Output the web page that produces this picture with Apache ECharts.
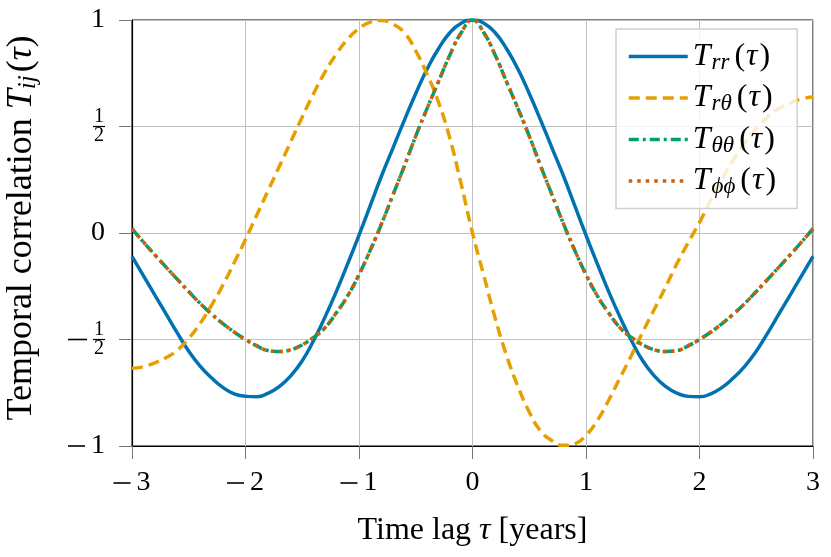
<!DOCTYPE html>
<html>
<head>
<meta charset="utf-8">
<script src="https://cdn.jsdelivr.net/npm/echarts@6/dist/echarts.min.js"></script>
<style>
  html, body { margin: 0; padding: 0; background: #fff; }
  #chart { width: 831px; height: 557px; }
</style>
</head>
<body>
<div id="chart"></div>
<script>
// time lag samples (years)
var tau = [-3.0, -2.9, -2.8, -2.7, -2.6, -2.5, -2.4, -2.3, -2.2, -2.1,
  -2.0, -1.9, -1.8, -1.7, -1.6, -1.5, -1.4, -1.3, -1.2, -1.1,
  -1.0, -0.9, -0.8, -0.7, -0.6, -0.5, -0.4, -0.3, -0.2, -0.1,
  0.0, 0.1, 0.2, 0.3, 0.4, 0.5, 0.6, 0.7, 0.8, 0.9,
  1.0, 1.1, 1.2, 1.3, 1.4, 1.5, 1.6, 1.7, 1.8, 1.9,
  2.0, 2.1, 2.2, 2.3, 2.4, 2.5, 2.6, 2.7, 2.8, 2.9, 3.0];

var Trr = [-0.11, -0.2, -0.29, -0.38, -0.47, -0.555, -0.625, -0.68, -0.725, -0.755,
  -0.767, -0.769, -0.752, -0.72, -0.67, -0.6, -0.505, -0.395, -0.275, -0.145,
  -0.01, 0.13, 0.27, 0.40, 0.53, 0.655, 0.77, 0.865, 0.94, 0.985,
  1.0, 0.985, 0.94, 0.865, 0.77, 0.655, 0.53, 0.40, 0.27, 0.13,
  -0.01, -0.145, -0.275, -0.395, -0.505, -0.6, -0.67, -0.72, -0.752, -0.767,
  -0.769, -0.755, -0.725, -0.68, -0.625, -0.555, -0.47, -0.38, -0.29, -0.2, -0.11];

var Trt = [-0.635, -0.628, -0.61, -0.585, -0.55, -0.495, -0.425, -0.34, -0.245, -0.14,
  -0.03, 0.085, 0.2, 0.315, 0.43, 0.545, 0.655, 0.755, 0.84, 0.91,
  0.96, 0.99, 0.998, 0.98, 0.94, 0.855, 0.745, 0.615, 0.445, 0.23,
  0.0, -0.2, -0.4, -0.575, -0.72, -0.84, -0.93, -0.975, -0.997, -0.99,
  -0.95, -0.88, -0.785, -0.68, -0.575, -0.465, -0.36, -0.255, -0.145, -0.045,
  0.05, 0.155, 0.255, 0.345, 0.425, 0.49, 0.545, 0.585, 0.61, 0.63, 0.638];

var Ttt = [0.02, -0.042, -0.102, -0.16, -0.218, -0.275, -0.33, -0.38, -0.425, -0.465,
  -0.5, -0.53, -0.552, -0.556, -0.548, -0.525, -0.49, -0.445, -0.375, -0.295,
  -0.195, -0.08, 0.045, 0.18, 0.315, 0.455, 0.585, 0.71, 0.835, 0.94,
  1.0, 0.94, 0.835, 0.71, 0.585, 0.455, 0.315, 0.18, 0.045, -0.08,
  -0.195, -0.295, -0.375, -0.445, -0.49, -0.525, -0.548, -0.556, -0.552, -0.53,
  -0.5, -0.465, -0.425, -0.38, -0.33, -0.275, -0.218, -0.16, -0.102, -0.042, 0.02];

var Tpp = [0.02, -0.042, -0.102, -0.16, -0.218, -0.275, -0.33, -0.38, -0.425, -0.465,
  -0.5, -0.53, -0.552, -0.556, -0.548, -0.525, -0.49, -0.445, -0.375, -0.295,
  -0.195, -0.08, 0.045, 0.18, 0.315, 0.455, 0.585, 0.71, 0.835, 0.94,
  1.0, 0.94, 0.835, 0.71, 0.585, 0.455, 0.315, 0.18, 0.045, -0.08,
  -0.195, -0.295, -0.375, -0.445, -0.49, -0.525, -0.548, -0.556, -0.552, -0.53,
  -0.5, -0.465, -0.425, -0.38, -0.33, -0.275, -0.218, -0.16, -0.102, -0.042, 0.02];

var seriesNames = ['Trr', 'Trθ', 'Tθθ', 'Tϕϕ'];
var seriesSubs = ['rr', 'rθ', 'θθ', 'ϕϕ'];

var serif = '"Liberation Serif", "DejaVu Serif", serif';

function pairs(ys) {
  return tau.map(function (t, i) { return [t, ys[i]]; });
}

// negative numbers get a long math minus drawn as a rich-text bar
function tickText(v) {
  if (v < 0) return '{mb|}{g|}{n|' + Math.abs(v) + '}';
  return '{n|' + v + '}';
}

var tickRich = {
  n: { fontFamily: serif, fontSize: 28, color: '#000' },
  mb: { width: 17, height: 1.6, backgroundColor: '#000' },
  g: { width: 6 },
  f: { fontFamily: serif, fontSize: 20, width: 12, align: 'center', lineHeight: 16, color: '#000' },
  bar: { width: 12, height: 1.2, lineHeight: 3, backgroundColor: '#000' },
  sp: { width: 25, lineHeight: 16 },
  mf: { width: 19, height: 1.6, lineHeight: 3, backgroundColor: '#000' },
  gf: { width: 6, lineHeight: 3 }
};

var chart = echarts.init(document.getElementById('chart'));

var legendRich = {
  i: { fontFamily: serif, fontStyle: 'italic', fontSize: 32, lineHeight: 36, color: '#000' },
  t: { fontFamily: serif, fontStyle: 'italic', fontSize: 32, lineHeight: 36, padding: [0, 2, 0, 1], color: '#000' },
  s: { fontFamily: serif, fontStyle: 'italic', fontSize: 23, lineHeight: 36, padding: [12, 5, 0, 1], color: '#000' },
  r: { fontFamily: serif, fontSize: 32, lineHeight: 36, color: '#000' }
};

var option = {
  animation: false,
  backgroundColor: '#fff',
  grid: {
    left: 132, right: 18, top: 20, bottom: 111,
    outerBoundsMode: 'none',
    containLabel: false,
    show: true, borderColor: '#000', borderWidth: 1
  },
  legend: {
    data: seriesNames,
    orient: 'vertical',
    left: 616, top: 29,
    padding: [10, 21, 10, 11],
    itemWidth: 59, itemHeight: 14, itemGap: 6.5, itemTextGap: 9,
    backgroundColor: 'rgba(255,255,255,0.8)',
    borderColor: '#d0d0d0', borderWidth: 1.5, borderRadius: 0,
    lineStyle: { width: 3.5 },
    itemStyle: { opacity: 0 },
    formatter: function (name) {
      var k = seriesNames.indexOf(name);
      return '{i|T}{s|' + seriesSubs[k] + '}{r|(}{t|τ}{r|)}';
    },
    textStyle: { rich: legendRich }
  },
  xAxis: {
    type: 'value', min: -3, max: 3, interval: 1,
    name: '{r|Time lag }{i|τ}{r| [years]}',
    nameLocation: 'middle', nameGap: 69,
    nameTextStyle: {
      rich: {
        r: { fontFamily: serif, fontSize: 32, color: '#000' },
        i: { fontFamily: serif, fontStyle: 'italic', fontSize: 32, color: '#000' }
      }
    },
    axisLine: { onZero: false, lineStyle: { color: '#000', width: 1.2 } },
    axisTick: { length: 13, lineStyle: { color: '#777' } },
    axisLabel: {
      margin: 23, color: '#000',
      formatter: tickText,
      rich: tickRich
    },
    splitLine: { show: true, lineStyle: { color: '#c0c0c0', width: 1 } }
  },
  yAxis: {
    type: 'value', min: -1, max: 1, interval: 0.5,
    name: '{r|Temporal correlation }{i|T}{s|ij}{r|(}{i|τ}{r|)}',
    nameLocation: 'middle', nameGap: 90,
    nameTextStyle: {
      padding: [0, 0, 0, 10],
      rich: {
        r: { fontFamily: serif, fontSize: 36, lineHeight: 40, color: '#000' },
        i: { fontFamily: serif, fontStyle: 'italic', fontSize: 36, lineHeight: 40, color: '#000' },
        s: { fontFamily: serif, fontStyle: 'italic', fontSize: 25, lineHeight: 40, padding: [13, 3, 0, 0], color: '#000' }
      }
    },
    axisLine: { onZero: false, lineStyle: { color: '#000', width: 1.2 } },
    axisTick: { length: 13, lineStyle: { color: '#777' } },
    axisLabel: {
      margin: 27, color: '#000',
      formatter: function (v) {
        if (v === 0.5) return '{f|1}\n{bar|}\n{f|2}';
        if (v === -0.5) return '{sp|}{f|1}\n{mf|}{gf|}{bar|}\n{sp|}{f|2}';
        return tickText(v);
      },
      rich: tickRich
    },
    splitLine: { show: true, lineStyle: { color: '#c0c0c0', width: 1 } }
  },
  series: [
    {
      name: seriesNames[0], type: 'line', data: pairs(Trr), smooth: 0.5,
      symbol: 'none', color: '#0072B2',
      lineStyle: { color: '#0072B2', width: 3.5 }
    },
    {
      name: seriesNames[1], type: 'line', data: pairs(Trt), smooth: 0.5,
      symbol: 'none', color: '#E69F00',
      lineStyle: { color: '#E69F00', width: 3.5, type: [11, 6], cap: 'butt' }
    },
    {
      name: seriesNames[2], type: 'line', data: pairs(Ttt), smooth: 0.5,
      symbol: 'none', color: '#009E73',
      lineStyle: { color: '#009E73', width: 3.5, type: [10, 4, 3, 4], cap: 'butt' }
    },
    {
      name: seriesNames[3], type: 'line', data: pairs(Tpp), smooth: 0.5,
      symbol: 'none', color: '#D55E00',
      lineStyle: { color: '#D55E00', width: 3.5, type: [3.5, 5], cap: 'butt' }
    }
  ]
};

chart.setOption(option);
</script>
</body>
</html>
